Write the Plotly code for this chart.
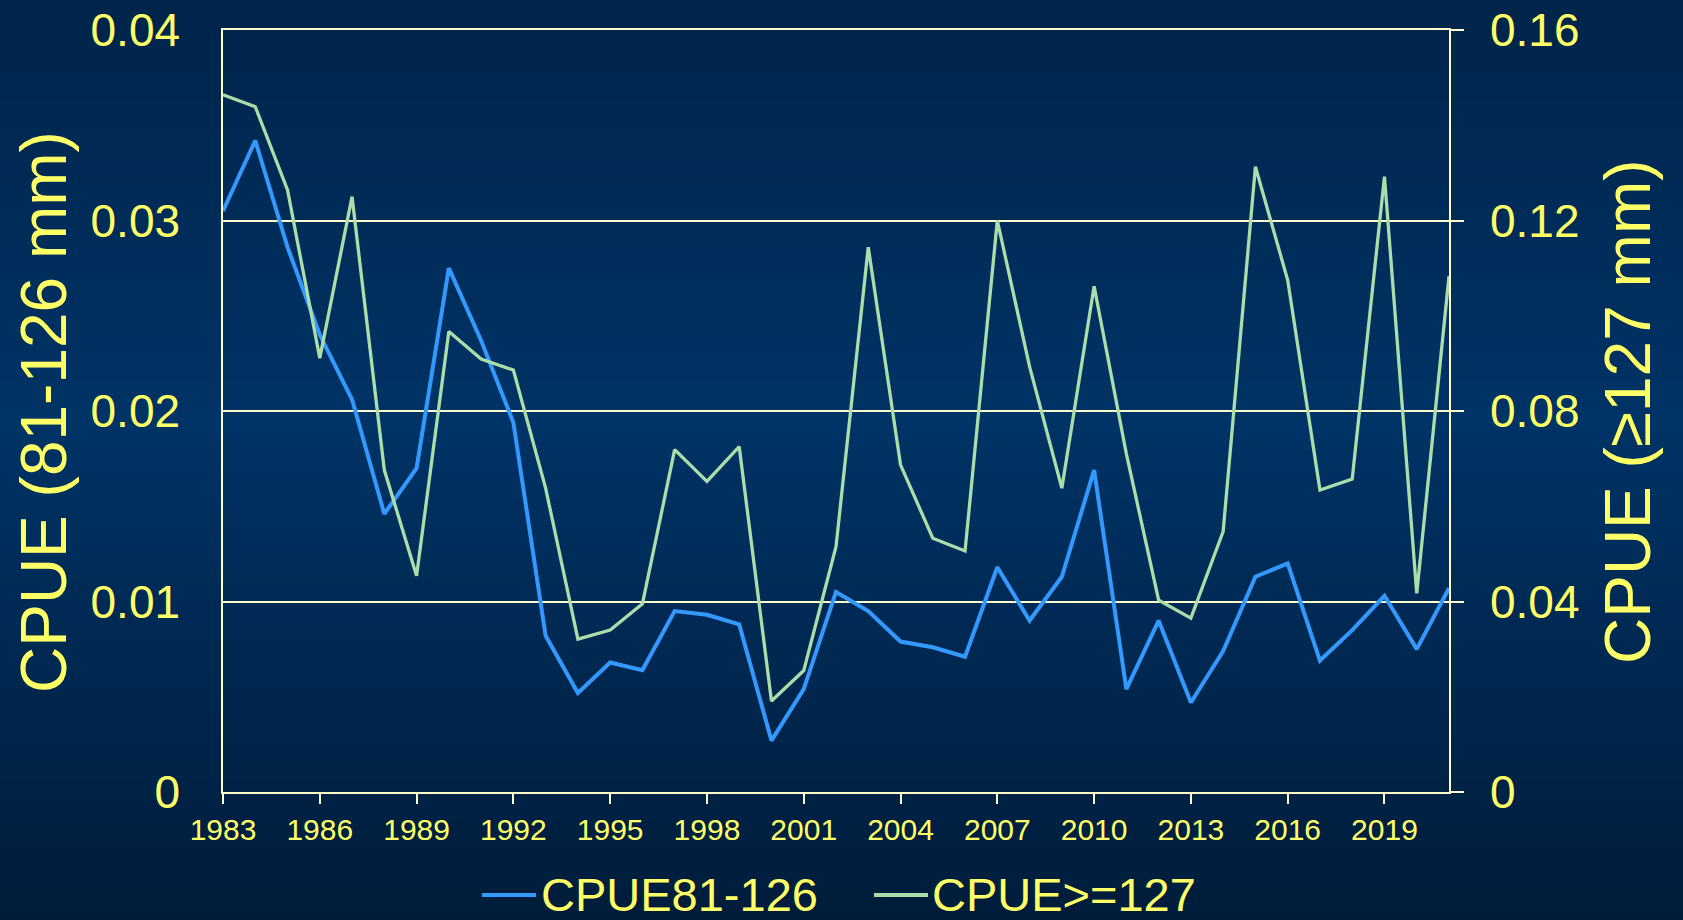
import plotly.graph_objects as go

# ---------------- data ----------------
years = list(range(1983, 2022))
cpue_81_126 = [0.0305, 0.0342, 0.0286, 0.0240, 0.0206, 0.0146, 0.0170, 0.0275, 0.0237, 0.0194,
               0.0082, 0.0052, 0.0068, 0.0064, 0.0095, 0.0093, 0.0088, 0.0027, 0.0054, 0.0105,
               0.0095, 0.0079, 0.0076, 0.0071, 0.0118, 0.0090, 0.0113, 0.0169, 0.0054, 0.0090,
               0.0047, 0.0074, 0.0113, 0.0120, 0.0069, 0.0085, 0.0103, 0.0075, 0.0107]
cpue_127 = [0.1464, 0.1439, 0.1264, 0.0911, 0.1250, 0.0676, 0.0454, 0.0967, 0.0909, 0.0886,
            0.0638, 0.0321, 0.0340, 0.0395, 0.0719, 0.0652, 0.0725, 0.0191, 0.0255, 0.0515,
            0.1144, 0.0687, 0.0533, 0.0506, 0.1200, 0.0893, 0.0638, 0.1062, 0.0710, 0.0403,
            0.0365, 0.0547, 0.1313, 0.1075, 0.0634, 0.0657, 0.1292, 0.0417, 0.1083]
x_ticks = list(range(1983, 2020, 3))
x_ticktext = [str(v) for v in x_ticks]
y1_ticks = [0, 0.01, 0.02, 0.03, 0.04]
y1_ticktext = ["0", "0.01", "0.02", "0.03", "0.04"]
y2_ticks = [0, 0.04, 0.08, 0.12, 0.16]
y2_ticktext = ["0", "0.04", "0.08", "0.12", "0.16"]
names = ["CPUE81-126", "CPUE>=127"]
title_left = "CPUE (81-126 mm)"
title_right = "CPUE (≥127 mm)"

# ---------------- style ----------------
W, H = 1683, 920
ML, MR, MT, MB = 223, 234, 30, 128
PW, PH = W - ML - MR, H - MT - MB
CREAM = "#FFFFCC"
YELLOW = "#FFFF66"
BLUE = "#3399FF"
GREEN = "#AADDAA"
FONT = "Liberation Sans, Arial, sans-serif"
colors = [BLUE, GREEN]


def px_x(px):
    return (px - ML) / PW


def px_y(py):
    return (MT + PH - py) / PH


fig = go.Figure()
fig.add_trace(go.Scatter(x=years, y=cpue_81_126, name=names[0], mode="lines",
                         line=dict(color=BLUE, width=4), yaxis="y", showlegend=False))
fig.add_trace(go.Scatter(x=years, y=cpue_127, name=names[1], mode="lines",
                         line=dict(color=GREEN, width=3.3), yaxis="y2", showlegend=False))

# background vertical gradient (bands)
stops = [(0, (0, 36, 74)), (420, (0, 51, 102)), (920, (0, 28, 58))]


def col_at(py):
    for (a, ca), (b, cb) in zip(stops[:-1], stops[1:]):
        if a <= py <= b:
            t = (py - a) / (b - a)
            return "rgb(%d,%d,%d)" % tuple(round(ca[i] + (cb[i] - ca[i]) * t) for i in range(3))
    return "rgb(0,28,58)"


shapes = []
band = 10
for py in range(0, H, band):
    shapes.append(dict(type="rect", xref="paper", yref="paper", layer="below",
                       x0=px_x(0), x1=px_x(W),
                       y0=px_y(py + band + 1), y1=px_y(py),
                       fillcolor=col_at(py + band / 2), line=dict(width=0)))

annotations = [
    dict(text=title_left, textangle=-90, xref="paper", yref="paper",
         x=px_x(44), y=px_y(412), xanchor="center", yanchor="middle",
         showarrow=False, font=dict(size=64, color=YELLOW, family=FONT)),
    dict(text=title_right, textangle=-90, xref="paper", yref="paper",
         x=px_x(1628), y=px_y(412), xanchor="center", yanchor="middle",
         showarrow=False, font=dict(size=64, color=YELLOW, family=FONT)),
]

# legend (drawn as swatch lines + text, long swatches like the original)
legend_swatches = [(482, 536), (874, 928)]
legend_text_x = [539, 930]
legend_y = 895
for (sx0, sx1), tx, nm, c in zip(legend_swatches, legend_text_x, names, colors):
    shapes.append(dict(type="line", xref="paper", yref="paper",
                       x0=px_x(sx0), x1=px_x(sx1), y0=px_y(legend_y), y1=px_y(legend_y),
                       line=dict(color=c, width=4)))
    annotations.append(dict(text=nm, xref="paper", yref="paper", x=px_x(tx), y=px_y(legend_y),
                            xanchor="left", yanchor="middle", showarrow=False,
                            font=dict(size=47, color=YELLOW, family=FONT)))

fig.update_layout(
    width=W, height=H, autosize=False,
    margin=dict(l=ML, r=MR, t=MT, b=MB, pad=0, autoexpand=False),
    paper_bgcolor="rgb(0,40,80)", plot_bgcolor="rgba(0,0,0,0)",
    font=dict(family=FONT, color=YELLOW),
    shapes=shapes, annotations=annotations,
    showlegend=False,
    xaxis=dict(range=[1983, 2021], tickvals=x_ticks, ticktext=x_ticktext,
               showgrid=False, zeroline=False, showline=True, mirror=True,
               linecolor=CREAM, linewidth=1.5, ticks="outside", ticklen=10,
               tickcolor=CREAM, tickwidth=1.5, tickfont=dict(size=30, color=YELLOW),
               ticklabelstandoff=0, automargin=False),
    xaxis2=dict(range=[1983, 2021], tickvals=x_ticks, overlaying="x", anchor="y",
                side="bottom", showgrid=False, zeroline=False, showline=False,
                ticks="inside", ticklen=9, tickcolor=CREAM, tickwidth=1.5,
                showticklabels=False, automargin=False),
    yaxis=dict(range=[0, 0.04], tickvals=y1_ticks, ticktext=y1_ticktext,
               showgrid=True, gridcolor=CREAM, gridwidth=1.5, zeroline=False,
               showline=True, linecolor=CREAM, linewidth=1.5, ticks="",
               tickfont=dict(size=46, color=YELLOW), ticklabelstandoff=32,
               automargin=False),
    yaxis2=dict(range=[0, 0.16], tickvals=y2_ticks, ticktext=y2_ticktext,
                overlaying="y", side="right", anchor="x",
                showgrid=False, zeroline=False, showline=True, linecolor=CREAM,
                linewidth=1.5, ticks="outside", ticklen=13, tickcolor=CREAM,
                tickwidth=1.5, tickfont=dict(size=46, color=YELLOW),
                ticklabelstandoff=17, automargin=False),
)

fig.write_html("out.html", config={"displayModeBar": False},
               post_script="document.body.style.margin='0';document.body.style.overflow='hidden';")
